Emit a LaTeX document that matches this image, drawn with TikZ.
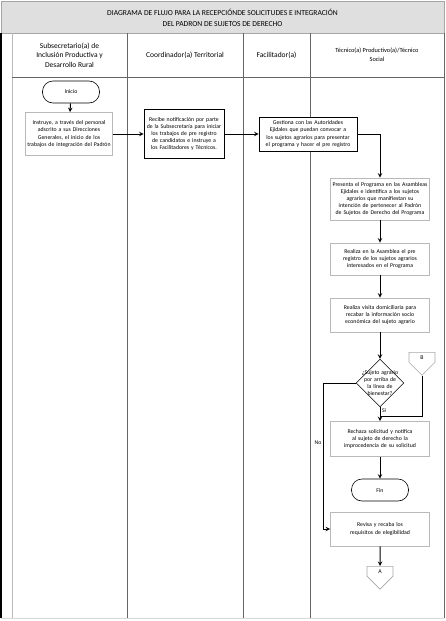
\documentclass[tikz,border=0pt]{standalone}
\usepackage{fontspec}
\setmainfont{Carlito}
\usepackage{tikz}
\usetikzlibrary{shapes.geometric, shapes.symbols, arrows}
\usepackage{xcolor}

\newcommand{\boxfont}{\fontsize{5.8}{7.2}\selectfont\hyphenpenalty=10000\exhyphenpenalty=10000}
\newcommand{\headfont}{\fontsize{7.5}{9.6}\selectfont}
\newcommand{\titlefont}{\fontsize{7.6}{11}\selectfont}

\begin{document}
\begin{tikzpicture}[x=1pt, y=-1pt, thick]
    \useasboundingbox (0,0) rectangle (446,621);

    % Define styles for boxes and arrows
    \tikzstyle{process} = [rectangle, draw=black, line width=0.8pt, fill=white, align=center, font=\boxfont, inner sep=1.5pt]
    \tikzstyle{processlight} = [process, draw=gray!55]
    \tikzstyle{startstop} = [rectangle, rounded corners=10.5pt, draw=black, line width=0.6pt, minimum width=57pt, minimum height=22pt, font=\boxfont]
    \tikzstyle{decision} = [diamond, draw=black, line width=0.6pt, fill=white, aspect=1, inner sep=-5pt, text width=42pt, align=center, font=\boxfont]
    \tikzstyle{offpage} = [signal, signal to=south, signal pointer angle=90, draw=gray!70, line width=0.6pt, minimum width=26pt, minimum height=13pt, inner sep=1.5pt, font=\boxfont]
    \tikzstyle{lane} = [gray!80!black, line width=0.8pt]
    \tikzstyle{arrow} = [line width=1pt,->,>=stealth]
    \tikzstyle{line} = [line width=1pt,-]

    % frame
    \draw [fill=gray!25, draw=gray!70, line width=0.8pt] (1,1) rectangle (444,33);
    \draw [line width=1.2pt] (1,33) -- (1,618);
    \draw [lane, gray!55] (12,33) -- (12,618);
    \draw [lane] (127,33) -- (127,618);
    \draw [lane] (243,33) -- (243,618);
    \draw [lane] (310,33) -- (310,618);
    \draw [lane] (444,33) -- (444,618);
    \draw [lane] (12,77) -- (444,77);
    \draw [lane, gray!30] (1,618) -- (444,618);

    % title and lane headers
    \node (title) [align=center, font=\titlefont] at (222.5,17.5) {DIAGRAMA DE FLUJO PARA LA RECEPCIÓNDE SOLICITUDES E INTEGRACIÓN\\DEL PADRON DE SUJETOS DE DERECHO};
    \node (subsecretario) [align=center, font=\headfont] at (69.5,55) {Subsecretario(a) de\\Inclusión Productiva y\\Desarrollo Rural};
    \node (coordinador) [align=center, font=\headfont] at (185,55) {Coordinador(a) Territorial};
    \node (facilitador) [align=center, font=\headfont] at (276.5,55) {Facilitador(a)};
    \node (tecnico) [align=center, font=\fontsize{6.3}{9}\selectfont] at (377,55) {Técnico(a) Productivo(a)/Técnico\\Social};

    % boxes
    \node (inicio) [startstop] at (71,92) {Inicio};
    \node (instruye) [processlight, text width=84pt, minimum height=43pt] at (69,134) {Instruye, a través del personal adscrito a sus Direcciones Generales, el inicio de los trabajos de integración del Padrón};
    \node (recibe) [process, text width=77pt, minimum height=49pt] at (184,134) {Recibe notificación por parte de la Subsecretaría para iniciar los trabajos de pre registro de candidatos e instruye a los Facilitadores y Técnicos.};
    \node (gestiona) [process, text width=95pt, minimum height=34pt] at (308,134) {Gestiona con las Autoridades Ejidales que puedan convocar a los sujetos agrarios para presentar el programa y hacer el pre registro};
    \node (presenta) [processlight, text width=96pt, minimum height=42pt] at (380,199) {Presenta el Programa en las Asambleas Ejidales e identifica a los sujetos agrarios que manifiestan su intención de pertenecer al Padrón de Sujetos de Derecho del Programa};
    \node (registro) [processlight, text width=96pt, minimum height=32pt] at (380,259) {Realiza en la Asamblea el pre registro de los sujetos agrarios interesados en el Programa};
    \node (visita) [processlight, text width=96pt, minimum height=34pt] at (380,315) {Realiza visita domiciliaria para recabar la información socio económica del sujeto agrario};
    \node (bienestar) [decision] at (380,383) {¿Sujeto agrario por arriba de la línea de bienestar?};
    \node (connB) [offpage, anchor=north] at (422,352) {B};
    \node (rechaza) [processlight, text width=96pt, minimum height=35pt] at (380,439) {Rechaza solicitud y notifica al sujeto de derecho la improcedencia de su solicitud};
    \node (fin) [startstop] at (380,490) {Fin};
    \node (revisa) [processlight, text width=96pt, minimum height=34pt] at (380,529) {Revisa y recaba los requisitos de elegibilidad};
    \node (connA) [offpage, anchor=north] at (380,566) {A};

    % extra
    \node (si) [font=\boxfont] at (384,411) {Si};
    \node (no) [font=\boxfont] at (318,443) {No};
    \coordinate (jointB) at (380,416);
    \coordinate (noturn) at (323,383);

    % Arrows
    \draw [arrow] (inicio) -- (instruye);
    \draw [arrow] (instruye) -- (recibe);
    \draw [arrow] (recibe) -- (gestiona);
    \draw [arrow] (gestiona.east) -| (presenta.north);
    \draw [arrow] (presenta) -- (registro);
    \draw [arrow] (registro) -- (visita);
    \draw [arrow] (visita) -- (bienestar);
    \draw [arrow] (bienestar) -- (rechaza);
    \draw [line] (connB.south) |- (jointB);
    \draw [arrow] (bienestar.west) -- (noturn) |- (revisa.west);
    \draw [arrow] (rechaza) -- (fin);
    \draw [arrow] (revisa) -- (connA);
\end{tikzpicture}
\end{document}
